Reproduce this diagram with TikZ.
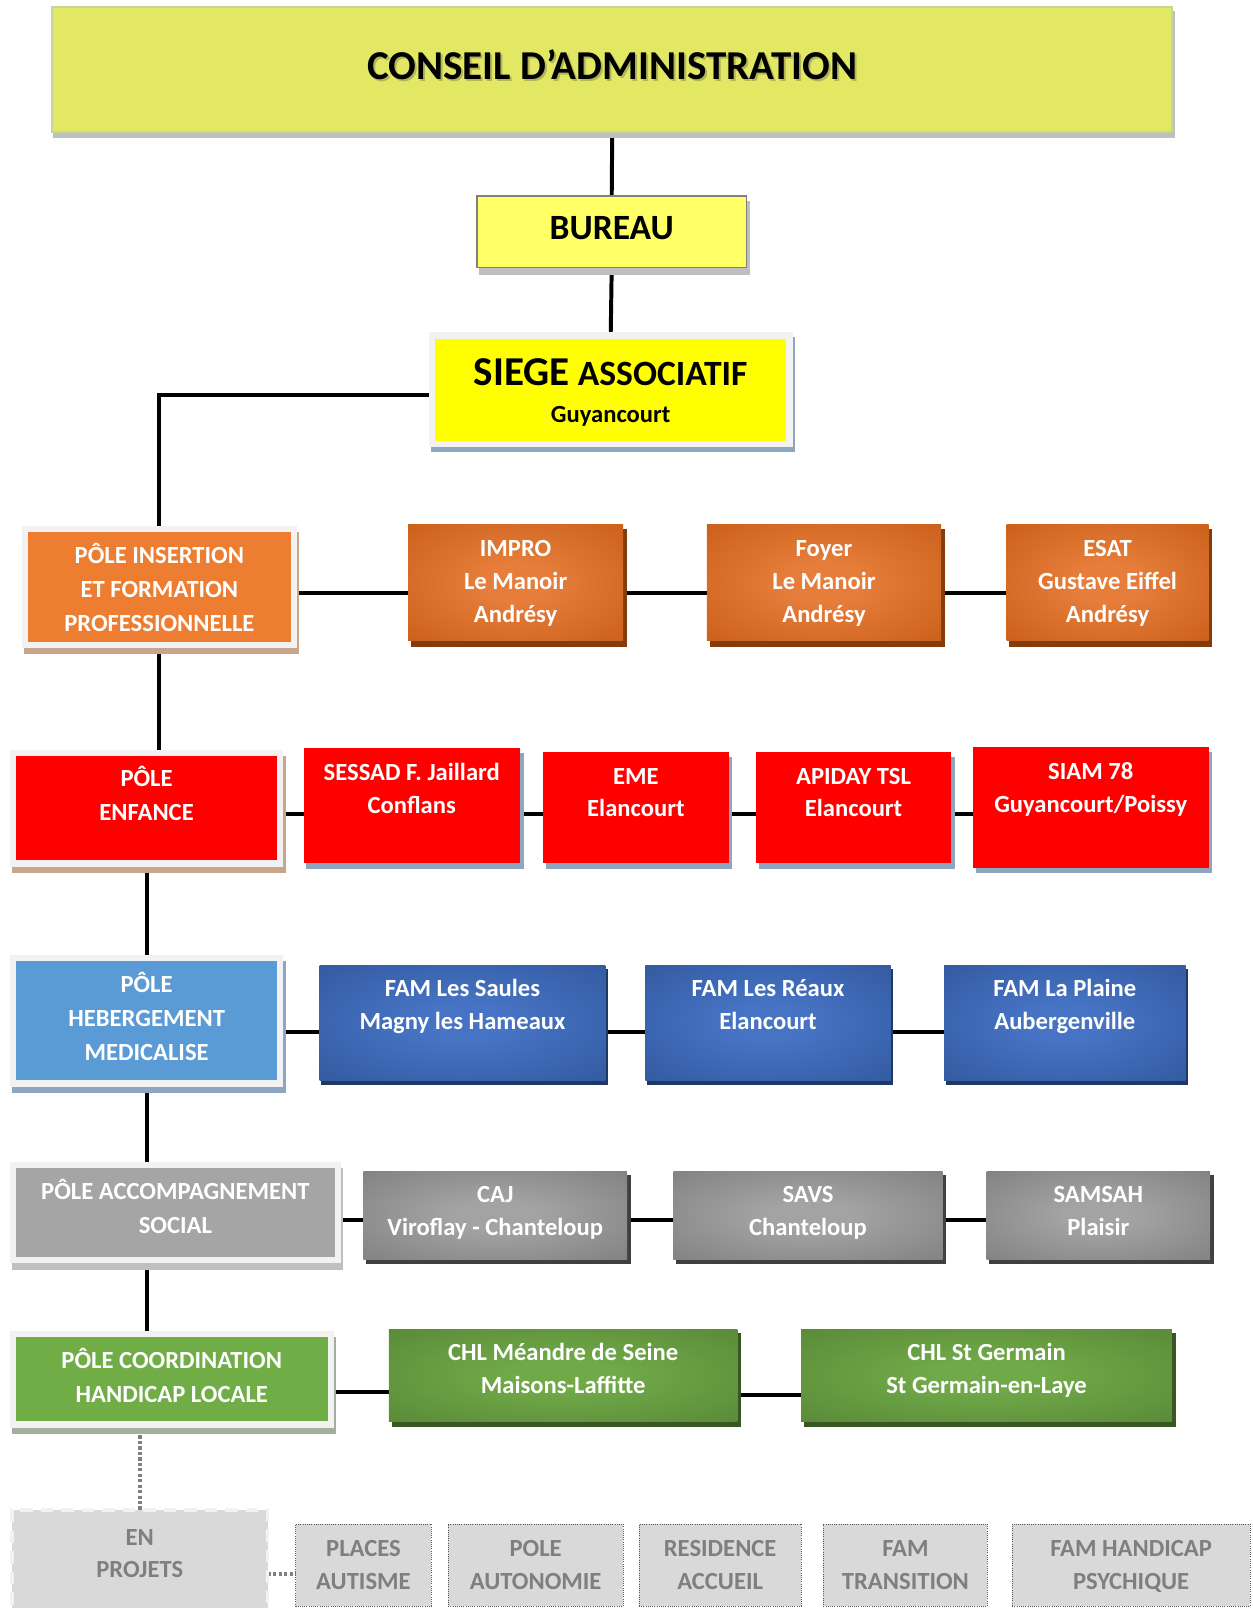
\documentclass[tikz,border=0pt]{standalone}
\usepackage{fontspec}
\setmainfont{Carlito}
\usetikzlibrary{calc,backgrounds}
\definecolor{conseilFill}{HTML}{E3E864}
\definecolor{conseilLine}{HTML}{C4D79B}
\definecolor{conseilTxtSh}{HTML}{B2B656}
\definecolor{greySh}{HTML}{BFBFBF}
\definecolor{bureauFill}{HTML}{FFFF66}
\definecolor{bureauLine}{HTML}{7F7F7F}
\definecolor{siegeFill}{HTML}{FFFF00}
\definecolor{poleFrame}{HTML}{F2F2F2}
\definecolor{steelSh}{HTML}{8EA6C0}
\definecolor{tanSh}{HTML}{C9A58C}
\definecolor{insFill}{HTML}{ED7D31}
\definecolor{enfFill}{HTML}{FF0000}
\definecolor{hebFill}{HTML}{5B9BD5}
\definecolor{accFill}{HTML}{A5A5A5}
\definecolor{cooFill}{HTML}{70AD47}
\definecolor{cooSh}{HTML}{A4AE9C}
\definecolor{orgIn}{HTML}{E67D3A}
\definecolor{orgOut}{HTML}{C0560F}
\definecolor{orgSh}{HTML}{843C0C}
\definecolor{redKid}{HTML}{FF0000}
\definecolor{bluIn}{HTML}{4673C4}
\definecolor{bluOut}{HTML}{2C5293}
\definecolor{bluSh}{HTML}{203864}
\definecolor{gryIn}{HTML}{A3A3A3}
\definecolor{gryOut}{HTML}{767676}
\definecolor{grySh}{HTML}{404040}
\definecolor{grnIn}{HTML}{70A948}
\definecolor{grnOut}{HTML}{527F33}
\definecolor{grnSh}{HTML}{385723}
\definecolor{projFill}{HTML}{D9D9D9}
\definecolor{projText}{HTML}{7F7F7F}
\definecolor{projLine}{HTML}{595959}
\pgfdeclareradialshading{orgglow}{\pgfpoint{0bp}{0bp}}{color(0bp)=(orgIn); color(8bp)=(orgIn); color(46bp)=(orgOut); color(75bp)=(orgOut)}
\pgfdeclareradialshading{bluglow}{\pgfpoint{0bp}{0bp}}{color(0bp)=(bluIn); color(8bp)=(bluIn); color(46bp)=(bluOut); color(75bp)=(bluOut)}
\pgfdeclareradialshading{gryglow}{\pgfpoint{0bp}{0bp}}{color(0bp)=(gryIn); color(8bp)=(gryIn); color(46bp)=(gryOut); color(75bp)=(gryOut)}
\pgfdeclareradialshading{grnglow}{\pgfpoint{0bp}{0bp}}{color(0bp)=(grnIn); color(8bp)=(grnIn); color(46bp)=(grnOut); color(75bp)=(grnOut)}
\newcommand\kidfont{\fontsize{18}{24}\selectfont\bfseries}
\newcommand\polefont{\fontsize{18}{24.75}\selectfont\bfseries}
\newcommand\shtext[2]{\makebox[0pt]{\raisebox{-1.5pt}{\hspace*{3pt}\textcolor{#1}{#2}}}\makebox[0pt]{#2}}
% box: style, name, x1, y1, x2, y2, first baseline offset, text
\newcommand\bx[8]{%
  \pgfmathsetlengthmacro\bxw{0.75pt*(#5-#3)}%
  \pgfmathsetlengthmacro\bxh{0.75pt*(#6-#4)}%
  \pgfmathsetlengthmacro\bxb{0.75pt*#7}%
  \node[#1] (#2) at ({(#3+#5)/2},{(#4+#6)/2})
    {\parbox[c][\bxh][t]{\bxw}{\centering\vspace*{\dimexpr\bxb-1em\relax}\rule{0pt}{1em}#8\par}};}
\begin{document}
\begin{tikzpicture}[x=0.75pt,y=-0.75pt,
  base/.style={inner sep=0pt, outer sep=0pt},
  shadowed/.style 2 args={preaction={fill=#1, draw=#1, transform canvas={shift={#2}}}},
  topbox/.style={base, fill=conseilFill, draw=conseilLine, line width=1.5pt, shadowed={greySh}{(2,5)}, font=\fontsize{30}{36}\selectfont\bfseries},
  bureaubox/.style={base, fill=bureauFill, draw=bureauLine, line width=1pt, shadowed={greySh}{(3,6)}, font=\fontsize{26}{30}\selectfont\bfseries},
  siegebox/.style={base, fill=siegeFill, draw=poleFrame, line width=4.8pt, shadowed={steelSh}{(2,5)}, font=\fontsize{26}{27.5}\selectfont\bfseries},
  pole/.style 2 args={base, fill=#1, draw=poleFrame, line width=4.5pt, shadowed={#2}{(2,6)}, text=white, font=\polefont},
  orgkid/.style={base, shade, shading=orgglow, shadowed={orgSh}{(3,5)}, text=white, font=\kidfont},
  redkid/.style={base, fill=redKid, shadowed={steelSh}{(3,5)}, text=white, font=\kidfont},
  blukid/.style={base, shade, shading=bluglow, shadowed={bluSh}{(2,4)}, text=white, font=\kidfont},
  grykid/.style={base, shade, shading=gryglow, shadowed={grySh}{(3,4)}, text=white, font=\kidfont},
  grnkid/.style={base, shade, shading=grnglow, shadowed={grnSh}{(3,4)}, text=white, font=\kidfont},
  projbig/.style={base, fill=projFill, draw=poleFrame, line width=2.5pt, dash pattern=on 9pt off 6pt, text=projText, font=\kidfont},
  projkid/.style={base, fill=projFill, draw=projLine, line width=0.6pt, densely dotted, text=projText, font=\kidfont},
  link/.style={line width=2.9pt, black},
  dotlink/.style={line width=2.6pt, projText, dash pattern=on 2.4pt off 1.6pt}]
\useasboundingbox (0,0) rectangle (1221,1568);

% top
\bx{topbox}{conseil}{51}{7}{1143}{129}{70.4}{\shtext{conseilTxtSh}{CONSEIL D’ADMINISTRATION}}
\bx{bureaubox}{bureau}{465}{191}{728}{261}{43}{BUREAU}
\bx{siegebox}{siege}{421.4}{327}{769.6}{433}{48.5}{{\fontsize{30}{36}\selectfont SIEGE} ASSOCIATIF\\{\fontsize{18}{27.5}\selectfont Guyancourt}}

% poles
\bx{pole={insFill}{tanSh}}{ins}{24.5}{516}{286.3}{629}{33.4}{PÔLE INSERTION\\ET FORMATION\\PROFESSIONNELLE}
\bx{pole={enfFill}{tanSh}}{enf}{12.5}{734}{273.4}{842}{33.2}{PÔLE\\ENFANCE}
\bx{pole={hebFill}{steelSh}}{heb}{12.5}{934.5}{273.4}{1056.5}{33.5}{PÔLE\\HEBERGEMENT\\MEDICALISE}
\bx{pole={accFill}{greySh}}{acc}{12.5}{1136}{329.5}{1229}{33.6}{PÔLE ACCOMPAGNEMENT\\SOCIAL}
\bx{pole={cooFill}{cooSh}}{coo}{12.5}{1300.5}{322.5}{1389}{33.9}{PÔLE COORDINATION\\HANDICAP LOCALE}

% row 1
\bx{orgkid}{impro}{398}{511}{607.6}{625}{32}{IMPRO\\Le Manoir\\Andrésy}
\bx{orgkid}{foyer}{689.4}{511}{917.6}{625}{32}{Foyer\\Le Manoir\\Andrésy}
\bx{orgkid}{esat}{981.5}{511}{1178.5}{625}{32}{ESAT\\Gustave Eiffel\\Andrésy}
% row 2
\bx{redkid}{sessad}{296}{729.8}{507}{842}{31}{SESSAD F. Jaillard\\Conflans}
\bx{redkid}{eme}{529.7}{733.6}{710.4}{842}{31}{EME\\Elancourt}
\bx{redkid}{apiday}{736.9}{733.6}{927.7}{842}{31}{APIDAY TSL\\Elancourt}
\bx{redkid}{siam}{948.7}{728.8}{1178.5}{846}{31}{SIAM 78\\Guyancourt/Poissy}
% row 3
\bx{blukid}{saules}{311.6}{941}{590.4}{1053.3}{31}{FAM Les Saules\\Magny les Hameaux}
\bx{blukid}{reaux}{629.4}{941}{868.5}{1053.3}{31}{FAM Les Réaux\\Elancourt}
\bx{blukid}{plaine}{920.7}{941}{1156}{1053.3}{31}{FAM La Plaine\\Aubergenville}
% row 4
\bx{grykid}{caj}{354.4}{1142}{611.5}{1228}{31}{CAJ\\Viroflay - Chanteloup}
\bx{grykid}{savs}{656.6}{1142}{919.2}{1228}{31}{SAVS\\Chanteloup}
\bx{grykid}{samsah}{962}{1142}{1180}{1228}{31}{SAMSAH\\Plaisir}
% row 5
\bx{grnkid}{meandre}{379.3}{1296}{719}{1386.4}{31}{CHL Méandre de Seine\\Maisons-Laffitte}
\bx{grnkid}{stg}{781.3}{1296}{1142.7}{1386.4}{31}{CHL St Germain\\St Germain-en-Laye}
% row 6
\bx{projbig}{proj}{11.7}{1472.6}{261}{1574}{34}{EN\\PROJETS}
\bx{projkid}{places}{288.2}{1486}{420.6}{1566}{32}{PLACES\\AUTISME}
\bx{projkid}{autonomie}{437}{1486}{607.6}{1566}{32}{POLE\\AUTONOMIE}
\bx{projkid}{residence}{623.2}{1486}{781.3}{1566}{32}{RESIDENCE\\ACCUEIL}
\bx{projkid}{transition}{803}{1486}{962.8}{1566}{32}{FAM\\TRANSITION}
\bx{projkid}{psychique}{987}{1486}{1219}{1566}{32}{FAM HANDICAP\\PSYCHIQUE}

\begin{pgfonlayer}{background}
\coordinate (rs) at (0,385);
\coordinate (r1) at (0,578);
\coordinate (r2) at (0,794);
\coordinate (r3) at (0,1006);
\coordinate (r4) at (0,1190);
\coordinate (r5) at (0,1357);
\coordinate (r5b) at (0,1360);
\coordinate (r6) at (0,1535);
\draw[link] (conseil.south) -- (bureau.north);
\draw[link] (bureau.south) -- (siege.north);
\draw[link] (siege.west |- rs) -| (ins.north);
\draw[link] (ins.south) -- (ins.south |- enf.north);
\draw[link] (enf.south) -- (enf.south |- heb.north);
\draw[link] (heb.south) -- (heb.south |- acc.north);
\draw[link] (heb.south |- acc.south) -- (heb.south |- coo.north);
\draw[dotlink] (proj.north |- coo.south) -- (proj.north);
\draw[link] (ins.east |- r1) -- (impro.west |- r1);
\draw[link] (impro.east |- r1) -- (foyer.west |- r1);
\draw[link] (foyer.east |- r1) -- (esat.west |- r1);
\draw[link] (enf.east |- r2) -- (sessad.west |- r2);
\draw[link] (sessad.east |- r2) -- (eme.west |- r2);
\draw[link] (eme.east |- r2) -- (apiday.west |- r2);
\draw[link] (apiday.east |- r2) -- (siam.west |- r2);
\draw[link] (heb.east |- r3) -- (saules.west |- r3);
\draw[link] (saules.east |- r3) -- (reaux.west |- r3);
\draw[link] (reaux.east |- r3) -- (plaine.west |- r3);
\draw[link] (acc.east |- r4) -- (caj.west |- r4);
\draw[link] (caj.east |- r4) -- (savs.west |- r4);
\draw[link] (savs.east |- r4) -- (samsah.west |- r4);
\draw[link] (coo.east |- r5) -- (meandre.west |- r5);
\draw[link] (meandre.east |- r5b) -- (stg.west |- r5b);
\draw[dotlink] (proj.east |- r6) -- (places.west |- r6);
\end{pgfonlayer}
\end{tikzpicture}
\end{document}
